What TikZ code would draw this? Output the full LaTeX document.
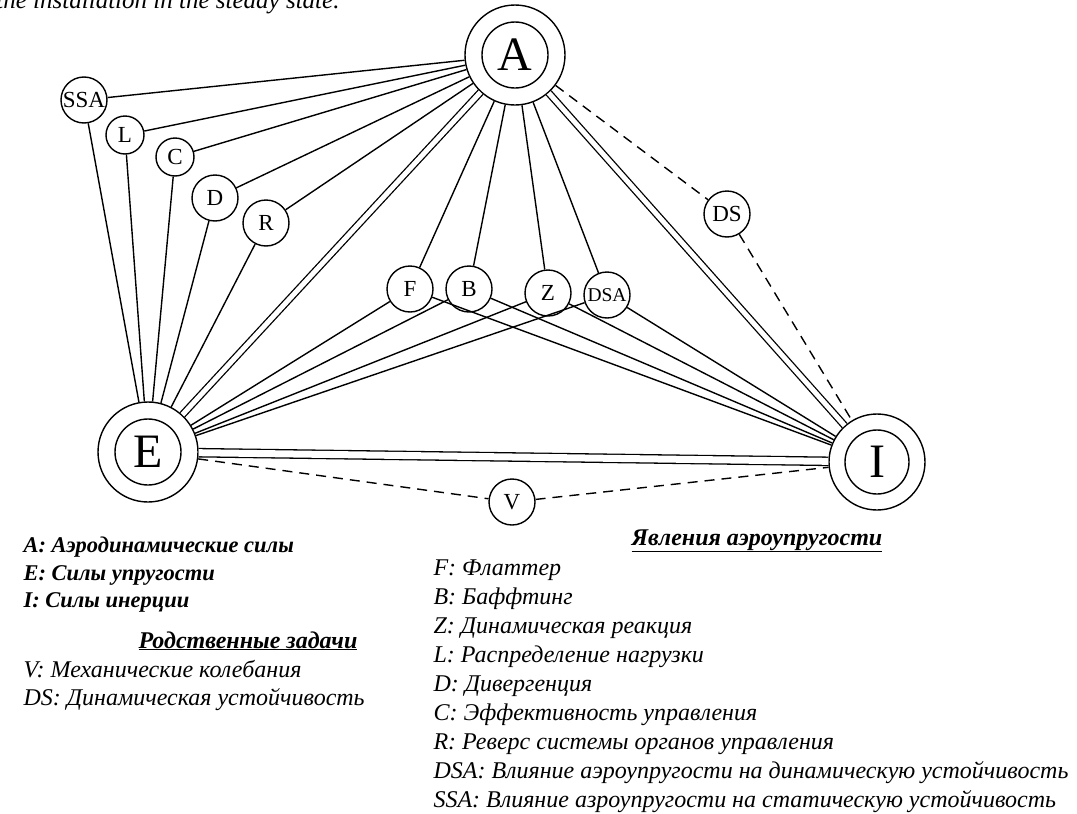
\documentclass[tikz,border=0pt]{standalone}
\usepackage{fontspec}
\setmainfont{Liberation Serif}
\begin{document}
\begin{tikzpicture}[x=1pt,y=-1pt,
  big/.style={circle, draw, line width=1.4pt, minimum size=100pt, inner sep=0pt, fill=white},
  bigin/.style={circle, draw, line width=1.4pt, minimum size=66pt, inner sep=0pt, font=\fontsize{48}{48}\selectfont},
  sm/.style={circle, draw, line width=1.4pt, minimum size=46pt, inner sep=0pt, fill=white, font=\fontsize{23}{23}\selectfont},
  smb/.style={sm, minimum size=38pt},
  ln/.style={line width=1.4pt},
  dbl/.style={line width=1.3pt, double, double distance=5pt},
  dsh/.style={line width=1.4pt, dash pattern=on 10pt off 7pt},
  legb/.style={anchor=base west, font=\fontsize{22.5}{26}\bfseries\itshape},
  legi/.style={anchor=base west, font=\fontsize{24}{27}\itshape},
  ttl/.style={anchor=base, font=\fontsize{24}{27}\bfseries\itshape}
]
\useasboundingbox (0,0) rectangle (1077,814);
\begin{scope}
\clip (0,0) rectangle (1077,814);
\node[anchor=base east, font=\fontsize{25}{25}\itshape] (top) at (343,8) {the installation in the steady state.};
\end{scope}

% main nodes
\node[big] (A) at (515,55) {};
\node[bigin] (Ain) at (A) {A};
\node[big] (E) at (148,452) {};
\node[bigin] (Ein) at (E) {E};
\node[big, minimum size=96pt] (I) at (877,462) {};
\node[bigin, minimum size=64pt] (Iin) at (I) {I};

% small nodes
\node[sm] (SSA) at (84,100) {SSA};
\node[smb] (L) at (125,135) {L};
\node[smb] (C) at (175,157) {C};
\node[sm] (D) at (215,198) {D};
\node[sm] (R) at (266,223) {R};
\node[sm] (F) at (410,289) {F};
\node[sm] (B) at (469,289) {B};
\node[sm] (Z) at (548,293) {Z};
\node[sm, font=\fontsize{19.5}{19.5}\selectfont] (DSA) at (607,295) {DSA};
\node[sm] (DS) at (727,214) {DS};
\node[sm] (V) at (512,502) {V};

% connectors
\draw[dbl] (A) -- (E);
\draw[dbl] (A) -- (I);
\draw[dbl, double distance=7pt] (E) -- (I);
\foreach \n in {SSA,L,C,D,R,F,B,Z,DSA} {\draw[ln] (A) -- (\n);}
\foreach \n in {SSA,L,C,D,R,F,B,Z,DSA} {\draw[ln] (\n) -- (E);}
\foreach \n in {F,B,Z,DSA} {\draw[ln] (\n) -- (I);}
\draw[dsh] (A) -- (DS);
\draw[dsh] (DS) -- (I);
\draw[dsh] (E) -- (V);
\draw[dsh] (V) -- (I);

% left legend
\node[legb] (lA) at (20,552) {A: Аэродинамические силы};
\node[legb] (lE) at (20,580) {E: Силы упругости};
\node[legb] (lI) at (20,607) {I: Силы инерции};
\node[ttl] (rt) at (248,648) {\underline{Родственные задачи}};
\node[legi] (lV) at (20,677) {V: Механические колебания};
\node[legi] (lDS) at (20,705) {DS: Динамическая устойчивость};

% right legend
\node[ttl] (at) at (757,545) {\underline{Явления аэроупругости}};
\node[legi] (r1) at (430,575) {F: Флаттер};
\node[legi] (r2) at (430,604) {B: Баффтинг};
\node[legi] (r3) at (430,633) {Z: Динамическая реакция};
\node[legi] (r4) at (430,662) {L: Распределение нагрузки};
\node[legi] (r5) at (430,691) {D: Дивергенция};
\node[legi] (r6) at (430,720) {C: Эффективность управления};
\node[legi] (r7) at (430,749) {R: Реверс системы органов управления};
\node[legi] (r8) at (430,778) {DSA: Влияние аэроупругости на динамическую устойчивость};
\node[legi] (r9) at (430,807) {SSA: Влияние азроупругости на статическую устойчивость};
\end{tikzpicture}
\end{document}
